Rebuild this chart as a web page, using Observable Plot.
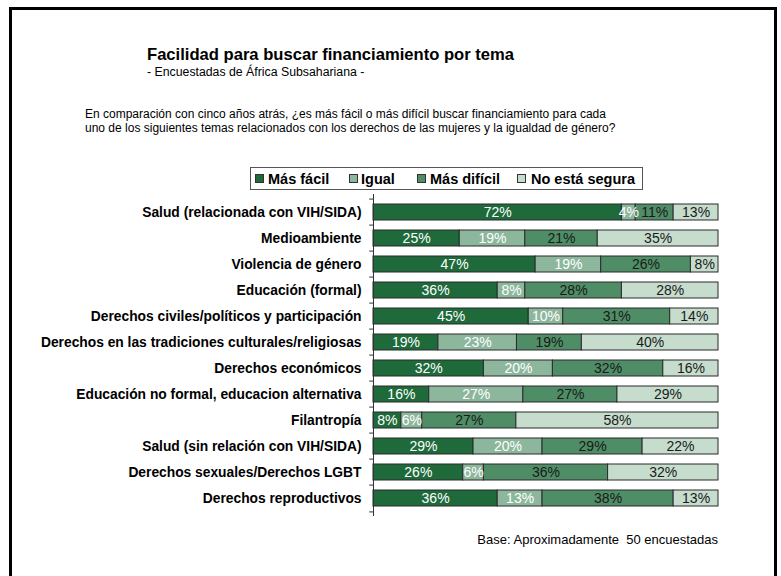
<!DOCTYPE html>
<html><head><meta charset="utf-8">
<script src="https://cdn.jsdelivr.net/npm/d3@7"></script>
<script src="https://cdn.jsdelivr.net/npm/@observablehq/plot@0.6"></script>
<style>
html,body{margin:0;padding:0;}
body{width:781px;height:576px;overflow:hidden;background:#fff;font-family:"Liberation Sans",Arial,sans-serif;position:relative;color:#000;}
#frame{position:absolute;left:9px;top:7px;width:768px;height:620px;border:3px solid #000;box-sizing:border-box;}
.t{position:absolute;white-space:nowrap;line-height:1;}
#title{left:147px;top:47px;font-size:16.6px;font-weight:bold;}
#subtitle{left:147px;top:66px;font-size:12.3px;}
#question{left:85px;top:107px;font-size:12px;line-height:14px;}
#legend{position:absolute;left:250px;top:167px;width:393px;height:23px;border:1px solid #555;box-sizing:border-box;background:#fff;}
.lsq{position:absolute;top:6px;width:9px;height:9px;border:1px solid #333;box-sizing:border-box;}
.ltx{position:absolute;top:4px;font-size:14.5px;font-weight:bold;line-height:1;white-space:nowrap;}
#caption{right:63px;top:533px;font-size:13px;}
#chart{position:absolute;left:0;top:190px;}
</style>
</head><body>
<div id="frame"></div>
<div class="t" id="title">Facilidad para buscar financiamiento por tema</div>
<div class="t" id="subtitle">- Encuestadas de África Subsahariana -</div>
<div class="t" id="question">En comparación con cinco años atrás, ¿es más fácil o más difícil buscar financiamiento para cada<br>uno de los siguientes temas relacionados con los derechos de las mujeres y la igualdad de género?</div>
<div id="legend"></div>
<div id="chart"></div>
<div class="t" id="caption">Base: Aproximadamente&nbsp; 50 encuestadas</div>
<script>
const temas = [
  "Salud (relacionada con VIH/SIDA)",
  "Medioambiente",
  "Violencia de género",
  "Educación (formal)",
  "Derechos civiles/políticos y participación",
  "Derechos en las tradiciones culturales/religiosas",
  "Derechos económicos",
  "Educación no formal, educacion alternativa",
  "Filantropía",
  "Salud (sin relación con VIH/SIDA)",
  "Derechos sexuales/Derechos LGBT",
  "Derechos reproductivos"
];
const categorias = ["Más fácil", "Igual", "Más difícil", "No está segura"];
const colores = ["#1e6a3a", "#8db79d", "#4f8d67", "#c6dccd"];
const colorTexto = ["#ffffff", "#ffffff", "#1a1a1a", "#1a1a1a"];
const masFacil   = [72, 25, 47, 36, 45, 19, 32, 16,  8, 29, 26, 36];
const igual      = [ 4, 19, 19,  8, 10, 23, 20, 27,  6, 20,  6, 13];
const masDificil = [11, 21, 26, 28, 31, 19, 32, 27, 27, 29, 36, 38];
const noSegura   = [13, 35,  8, 28, 14, 40, 16, 29, 58, 22, 32, 13];

const series = [masFacil, igual, masDificil, noSegura];
const data = [];
temas.forEach((t, i) => {
  categorias.forEach((c, j) => {
    data.push({tema: t, cat: c, ci: j, value: series[j][i]});
  });
});

// legend
const legend = document.getElementById("legend");
const sqX = [4, 98, 166, 266];
const txX = [17, 110, 179, 280];
categorias.forEach((c, j) => {
  const sq = document.createElement("div");
  sq.className = "lsq"; sq.style.left = sqX[j] + "px"; sq.style.background = colores[j];
  legend.appendChild(sq);
  const tx = document.createElement("div");
  tx.className = "ltx"; tx.style.left = txX[j] + "px"; tx.textContent = c;
  legend.appendChild(tx);
});

const W = 781, H = 330, mt = 4, mb = 4, ml = 373, mr = 63;
const step = (H - mt - mb) / temas.length;
const stackOpts = {offset: "normalize", x: "value", y: "tema", z: "cat"};

const chart = Plot.plot({
  width: W, height: H,
  marginTop: mt, marginBottom: mb, marginLeft: ml, marginRight: mr,
  style: {fontFamily: "Liberation Sans, Arial, sans-serif", color: "#000", background: "transparent", overflow: "visible"},
  x: {domain: [0, 1], axis: null},
  y: {domain: temas, paddingInner: 0.38, paddingOuter: 0.19, axis: null},
  color: {domain: categorias, range: colores},
  marks: [
    Plot.barX(data, Plot.stackX({...stackOpts, fill: "cat", stroke: "#2b2b2b", strokeWidth: 1})),
    Plot.text(data, Plot.filter(d => d.ci < 2, Plot.stackX({...stackOpts, text: d => d.value + "%", fill: colorTexto[0], fontSize: 14}))),
    Plot.text(data, Plot.filter(d => d.ci >= 2, Plot.stackX({...stackOpts, text: d => d.value + "%", fill: colorTexto[2], fontSize: 14}))),
    Plot.ruleX([0], {stroke: "#333", strokeWidth: 1}),
    Plot.ruleY(temas, {y: d => d, dy: -step / 2, x1: -0.011, x2: 0, stroke: "#333"}),
    Plot.ruleY(temas.slice(-1), {y: d => d, dy: step / 2, x1: -0.011, x2: 0, stroke: "#333"}),
    Plot.axisY({tickSize: 0, tickPadding: 12, fontSize: 13.8, fontWeight: "bold", label: null, color: "#000"})
  ]
});
document.getElementById("chart").appendChild(chart);
</script>
</body></html>
